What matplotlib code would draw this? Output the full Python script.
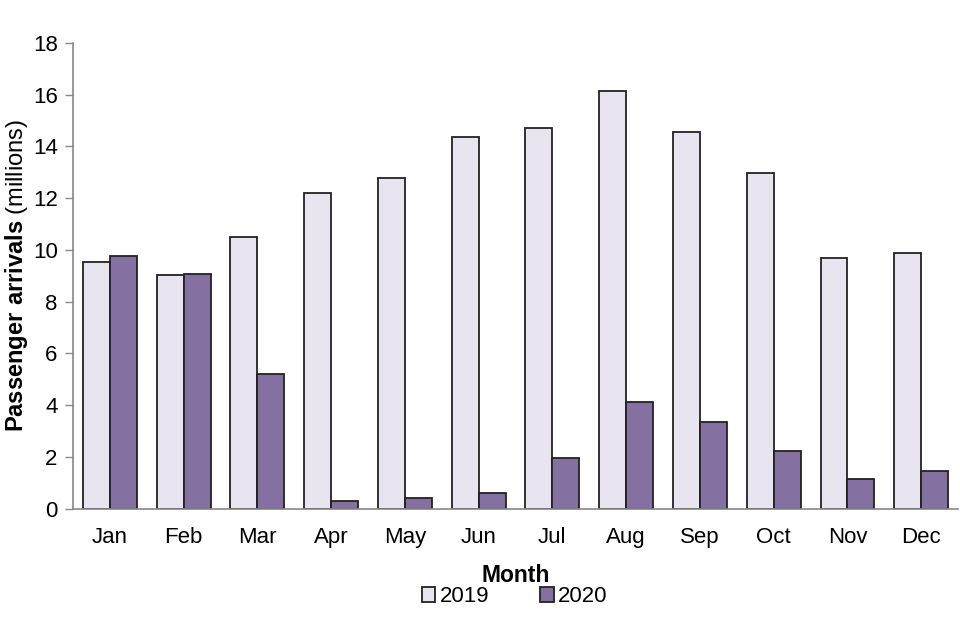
import matplotlib.pyplot as plt
import numpy as np

months = ["Jan", "Feb", "Mar", "Apr", "May", "Jun", "Jul", "Aug", "Sep", "Oct", "Nov", "Dec"]
arrivals_2019 = [9.54, 9.04, 10.5, 12.2, 12.78, 14.37, 14.72, 16.14, 14.56, 12.96, 9.69, 9.89]
arrivals_2020 = [9.77, 9.08, 5.21, 0.31, 0.42, 0.62, 1.97, 4.13, 3.36, 2.24, 1.16, 1.47]

plt.rcParams["font.family"] = ["Liberation Sans", "DejaVu Sans"]
plt.rcParams["mathtext.fontset"] = "custom"
plt.rcParams["mathtext.rm"] = "Liberation Sans"
plt.rcParams["mathtext.bf"] = "Liberation Sans:bold"

fig = plt.figure(figsize=(9.6, 6.4), dpi=100)
ax = fig.add_axes([0.076, 0.205, 0.922, 0.728])

x = np.arange(len(months))
w = 0.365
ax.bar(x - w / 2, arrivals_2019, w, color="#E8E5F1", edgecolor="#222222", linewidth=1.3, label="2019")
ax.bar(x + w / 2, arrivals_2020, w, color="#8470A1", edgecolor="#222222", linewidth=1.3, label="2020")

ax.set_xlim(-0.5, 11.5)
ax.set_ylim(0, 18)
ax.set_yticks(range(0, 19, 2))
ax.set_xticks(x)
ax.set_xticklabels(months)
ax.tick_params(axis="x", length=0, labelsize=16, pad=13)
ax.tick_params(axis="y", length=6, width=1, color="#888888", labelsize=16, pad=5)

for side in ["top", "right"]:
    ax.spines[side].set_visible(False)
for side in ["left", "bottom"]:
    ax.spines[side].set_color("#888888")
    ax.spines[side].set_linewidth(1.2)

ax.set_xlabel("Month", fontsize=16.5, fontweight="bold")
ax.xaxis.set_label_coords(0.5, -0.118)
ax.set_ylabel(r"$\bf{Passenger\ arrivals}$ (millions)", fontsize=17)
ax.yaxis.set_label_coords(-0.049, 0.5)

ax.legend(loc="center", bbox_to_anchor=(0.499, -0.189), ncol=2, frameon=False,
          fontsize=16, handlelength=0.6, handleheight=0.6, handletextpad=0.2,
          columnspacing=2.3, borderpad=0)

fig.savefig("out.png", dpi=100)
